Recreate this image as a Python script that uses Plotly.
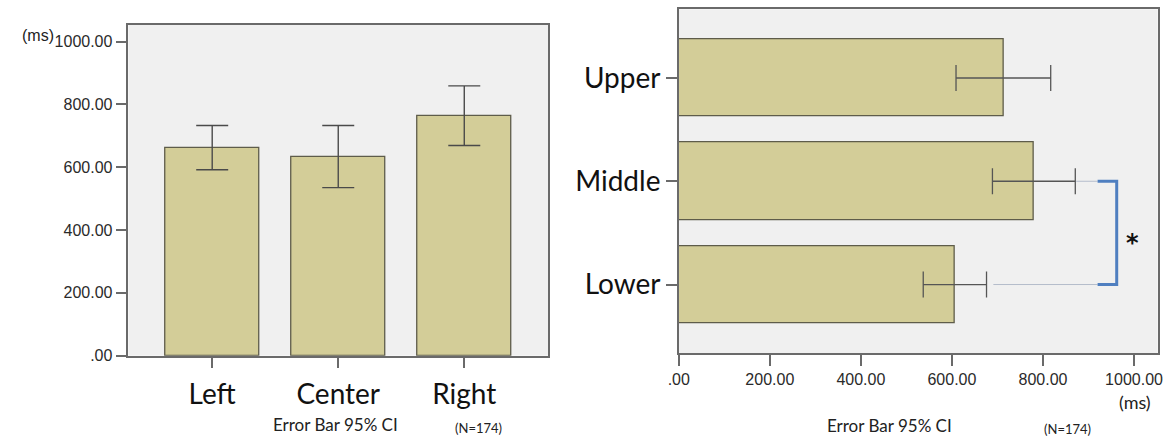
import plotly.graph_objects as go

# Reaction times (ms): horizontal target position
h_categories = ["Left", "Center", "Right"]
h_means = [662, 634, 764]
h_ci_low = [592, 535, 669]
h_ci_high = [733, 733, 859]

# Reaction times (ms): vertical target position
v_categories = ["Upper", "Middle", "Lower"]
v_means = [713, 780, 607]
v_ci_low = [609, 689, 537]
v_ci_high = [817, 871, 676]

# Value axis ticks
tick_vals = [0, 200, 400, 600, 800, 1000]
tick_text = [".00", "200.00", "400.00", "600.00", "800.00", "1000.00"]
axis_max = 1053

# Significance bracket between Middle and Lower (ms positions)
bracket_arm = 920
bracket_x = 962
star_x = 997

BAR_FILL = "#d3cd98"
BAR_EDGE = "#5e5c4a"
ERR = "#4a4a4a"
FRAME = "#6a6a6a"
TICK_FONT = dict(family="Liberation Sans, Arial, sans-serif", size=16, color="#2a2a2a")
CAT_FONT = dict(family="Lato, sans-serif", size=28, color="#111111")
NOTE_FONT = dict(family="Lato, sans-serif", size=17, color="#222222")
SMALL_FONT = dict(family="Lato, sans-serif", size=13, color="#222222")

fig = go.Figure()

fig.add_trace(go.Bar(
    x=h_categories, y=h_means, width=0.75,
    marker=dict(color=BAR_FILL, line=dict(color=BAR_EDGE, width=1.3)),
    error_y=dict(type="data", symmetric=False,
                 array=[hi - m for hi, m in zip(h_ci_high, h_means)],
                 arrayminus=[m - lo for lo, m in zip(h_ci_low, h_means)],
                 color=ERR, thickness=1.4, width=16),
    xaxis="x", yaxis="y", showlegend=False, hoverinfo="skip",
))

fig.add_trace(go.Bar(
    y=v_categories, x=v_means, orientation="h", width=0.75,
    marker=dict(color=BAR_FILL, line=dict(color=BAR_EDGE, width=1.3)),
    error_x=dict(type="data", symmetric=False,
                 array=[hi - m for hi, m in zip(v_ci_high, v_means)],
                 arrayminus=[m - lo for lo, m in zip(v_ci_low, v_means)],
                 color="#555555", thickness=1.3, width=13),
    xaxis="x2", yaxis="y2", showlegend=False, hoverinfo="skip",
))

# thin leader lines from the CI ends to the bracket
fig.add_trace(go.Scatter(
    x=[v_ci_high[1] + 2, bracket_arm], y=["Middle", "Middle"], mode="lines",
    line=dict(color="#b4bccb", width=1), xaxis="x2", yaxis="y2",
    showlegend=False, hoverinfo="skip",
))
fig.add_trace(go.Scatter(
    x=[v_ci_high[2] + 15, bracket_arm], y=["Lower", "Lower"], mode="lines",
    line=dict(color="#b4bccb", width=1), xaxis="x2", yaxis="y2",
    showlegend=False, hoverinfo="skip",
))
# significance bracket
fig.add_trace(go.Scatter(
    x=[bracket_arm, bracket_x, bracket_x, bracket_arm],
    y=["Middle", "Middle", "Lower", "Lower"], mode="lines",
    line=dict(color="#4f7fc0", width=3), xaxis="x2", yaxis="y2",
    showlegend=False, hoverinfo="skip",
))

axis_common = dict(
    showline=True, linecolor=FRAME, linewidth=1.5, mirror=True,
    ticks="outside", ticklen=11, tickwidth=1.5, tickcolor=FRAME,
    showgrid=False, zeroline=False, fixedrange=True,
)

fig.update_layout(
    width=1176, height=445, autosize=False,
    margin=dict(l=0, r=0, t=0, b=0),
    paper_bgcolor="white", plot_bgcolor="#f0f0f0",
    bargap=0,
    xaxis=dict(domain=[119 / 1176, 544.5 / 1176], anchor="y",
               type="category", categoryarray=h_categories,
               range=[-0.665, 2.665], tickfont=CAT_FONT,
               ticklabelstandoff=2, **axis_common),
    yaxis=dict(domain=[1 - 363 / 445, 1 - 25.5 / 445], anchor="x",
               range=[0, axis_max], tickvals=tick_vals, ticktext=tick_text,
               tickfont=TICK_FONT, **axis_common),
    xaxis2=dict(domain=[677 / 1176, 1162.5 / 1176], anchor="y2",
                range=[0, 1052], tickvals=tick_vals, ticktext=tick_text,
                tickfont=TICK_FONT, **axis_common),
    yaxis2=dict(domain=[1 - 360.5 / 445, 1 - 9.5 / 445], anchor="x2",
                type="category", categoryarray=v_categories,
                range=[2.665, -0.665], tickfont=CAT_FONT, **axis_common),
)


def note(text, px, py, font):
    return dict(text=text, x=px / 1176, y=1 - py / 445, xref="paper", yref="paper",
                xanchor="center", yanchor="middle", showarrow=False, font=font)


annotations = [
    note("(ms)", 27, 36, dict(family="Liberation Sans, Arial, sans-serif",
                              size=16, color="#222222")),
    note("Error Bar 95% CI", 329, 433, NOTE_FONT),
    note("(N=174)", 474, 437, SMALL_FONT),
    note("(ms)", 1140, 410, dict(family="Lato, sans-serif", size=18, color="#222222")),
    note("Error Bar 95% CI", 891, 434, NOTE_FONT),
    note("(N=174)", 1071, 438, SMALL_FONT),
    dict(text="<b>*</b>", x=star_x, y=1.6, xref="x2", yref="y2",
         xanchor="center", yanchor="middle", showarrow=False,
         font=dict(family="DejaVu Sans, sans-serif", size=24, color="#111111")),
]
fig.update_layout(annotations=annotations)

fig.write_html("out.html")
